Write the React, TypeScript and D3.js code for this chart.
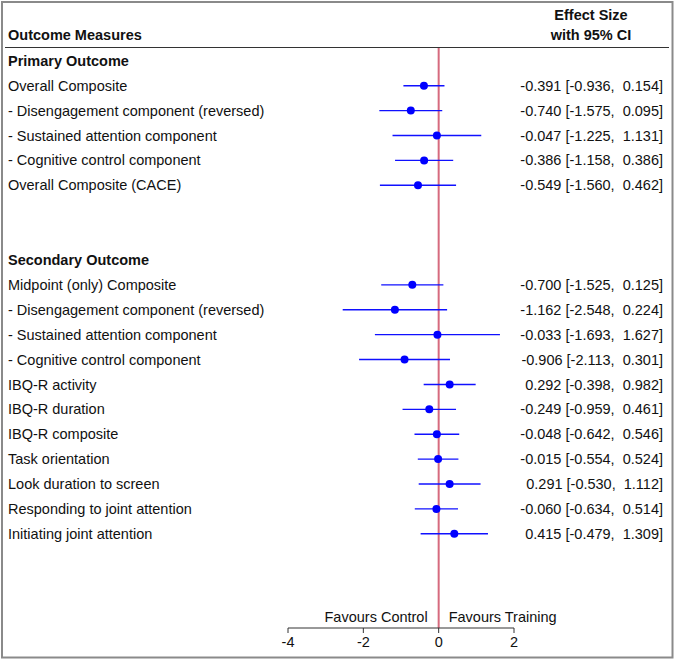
import React from "react";
import * as d3 from "d3";

const labels: string[] = [
  "Primary Outcome",
  "Overall Composite",
  "- Disengagement component (reversed)",
  "- Sustained attention component",
  "- Cognitive control component",
  "Overall Composite (CACE)",
  "",
  "",
  "Secondary Outcome",
  "Midpoint (only) Composite",
  "- Disengagement component (reversed)",
  "- Sustained attention component",
  "- Cognitive control component",
  "IBQ-R activity",
  "IBQ-R duration",
  "IBQ-R composite",
  "Task orientation",
  "Look duration to screen",
  "Responding to joint attention",
  "Initiating joint attention",
];
const isHeader: boolean[] = labels.map((l) => l === "Primary Outcome" || l === "Secondary Outcome");

const estimates: (number | null)[] = [
  null, -0.391, -0.74, -0.047, -0.386, -0.549, null, null,
  null, -0.7, -1.162, -0.033, -0.906, 0.292, -0.249, -0.048, -0.015, 0.291, -0.06, 0.415,
];
const lower: (number | null)[] = [
  null, -0.936, -1.575, -1.225, -1.158, -1.56, null, null,
  null, -1.525, -2.548, -1.693, -2.113, -0.398, -0.959, -0.642, -0.554, -0.53, -0.634, -0.479,
];
const upper: (number | null)[] = [
  null, 0.154, 0.095, 1.131, 0.386, 0.462, null, null,
  null, 0.125, 0.224, 1.627, 0.301, 0.982, 0.461, 0.546, 0.524, 1.112, 0.514, 1.309,
];
const ticks: number[] = [-4, -2, 0, 2];

const W = 675;
const H = 660;
const FONT = "'Liberation Sans', Arial, Helvetica, sans-serif";
const FS = 14.5;

const fmt = (v: number) => v.toFixed(3);

export default function App() {
  const x = d3.scaleLinear().domain([-4, 2]).range([288, 514]);
  const y = d3
    .scaleLinear()
    .domain([0, labels.length - 1])
    .range([60.8, 533.8]);
  const axisY = 628;
  const numX = 663;

  return (
    <svg
      width={W}
      height={H}
      style={{ position: "absolute", left: 0, top: 0 }}
      fontFamily={FONT}
      fontSize={FS}
    >
      <rect x={0} y={0} width={W} height={H} fill="#fff" />
      <rect x={2} y={2} width={670.5} height={655.5} fill="none" stroke="#8a8a8a" strokeWidth={2} />

      {/* header */}
      <text x={8} y={35} dy="0.35em" fontWeight="bold" fill="#111">
        Outcome Measures
      </text>
      <text x={591} y={15} dy="0.35em" fontWeight="bold" textAnchor="middle" fill="#111">
        Effect Size
      </text>
      <text x={591} y={35} dy="0.35em" fontWeight="bold" textAnchor="middle" fill="#111">
        with 95% CI
      </text>
      <line x1={5} x2={669} y1={47.5} y2={47.5} stroke="#333" strokeWidth={1} />

      {/* zero line */}
      <line x1={x(0)} x2={x(0)} y1={48} y2={axisY} stroke="#d66a7e" strokeWidth={2} />

      {labels.map((l, i) => (
        <text
          key={"l" + i}
          x={8}
          y={y(i)}
          dy="0.35em"
          fontWeight={isHeader[i] ? "bold" : "normal"}
          fill="#111"
        >
          {l}
        </text>
      ))}

      {estimates.map((e, i) => {
        if (e === null) return null;
        const lo = lower[i] as number;
        const hi = upper[i] as number;
        const str = `${fmt(e)} [${fmt(lo)}, ${hi < 0 ? "" : " "}${fmt(hi)}]`;
        return (
          <g key={"r" + i}>
            <line x1={x(lo)} x2={x(hi)} y1={y(i)} y2={y(i)} stroke="#1010ff" strokeWidth={1.4} />
            <circle cx={x(e)} cy={y(i)} r={4} fill="#0000ff" />
            <text
              x={numX}
              y={y(i)}
              dy="0.35em"
              textAnchor="end"
              fill="#111"
              style={{ whiteSpace: "pre" }}
              xmlSpace="preserve"
            >
              {str}
            </text>
          </g>
        );
      })}

      {/* axis */}
      <line x1={x(-4)} x2={x(2)} y1={axisY} y2={axisY} stroke="#333" strokeWidth={1} />
      {ticks.map((t) => (
        <g key={"t" + t}>
          <line x1={x(t)} x2={x(t)} y1={axisY} y2={axisY + 5} stroke="#333" strokeWidth={1} />
          <text x={x(t)} y={642} dy="0.35em" textAnchor="middle" fill="#111">
            {String(t)}
          </text>
        </g>
      ))}
      <text x={x(0) - 11} y={617} dy="0.35em" textAnchor="end" fill="#111">
        Favours Control
      </text>
      <text x={x(0) + 10} y={617} dy="0.35em" textAnchor="start" fill="#111">
        Favours Training
      </text>
    </svg>
  );
}
